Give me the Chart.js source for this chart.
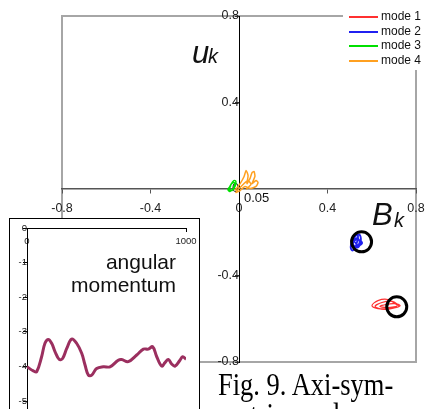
<!DOCTYPE html>
<html>
<head>
<meta charset="utf-8">
<script src="https://cdn.jsdelivr.net/npm/chart.js@4.4.1/dist/chart.umd.min.js"></script>
<style>
body { margin: 0; background: #fff; overflow: hidden; }
#wrap { position: relative; width: 425px; height: 409px; overflow: hidden; font-family: "Liberation Sans", Arial, sans-serif; color: #111; }
#mainChart { position: absolute; left: 0; top: 0; }
#insetBox { position: absolute; left: 9px; top: 218px; width: 189px; height: 200px; border: 1px solid #000; background: #fff; }
#insetChart { position: absolute; left: 0; top: 0; }
#legend { position: absolute; left: 343px; top: 9px; width: 82px; height: 61px; background: #fff; }
#legend .row { position: absolute; left: 6px; height: 14.7px; line-height: 14.7px; font-size: 12px; white-space: nowrap; }
#legend .swatch { display: inline-block; width: 29px; height: 2px; vertical-align: middle; margin-right: 3px; }
.txt { position: absolute; line-height: 1; white-space: nowrap; }
.cap { position: absolute; line-height: 1; white-space: nowrap; font-family: "Liberation Serif", "Times New Roman", serif; font-size: 26.5px; color: #000; transform: scaleY(1.2); transform-origin: 0 0.84em; }
</style>
</head>
<body>
<div id="wrap">
    <canvas id="mainChart" width="425" height="409"></canvas>
    <div id="legend"></div>
    <div class="txt" style="left:192px;top:36.8px;font-size:31px;font-style:italic">u</div>
    <div class="txt" style="left:208px;top:46.1px;font-size:20px;font-style:italic">k</div>
    <div class="txt" style="left:372px;top:198.8px;font-size:31px;font-style:italic">B</div>
    <div class="txt" style="left:394px;top:210.1px;font-size:20px;font-style:italic">k</div>
    <div class="txt" style="left:244px;top:191px;font-size:13px">0.05</div>
    <div id="insetBox">
        <canvas id="insetChart" width="189" height="190"></canvas>
    </div>
    <div class="txt" style="left:0;width:176px;text-align:right;top:251.2px;font-size:21px">angular</div>
    <div class="txt" style="left:0;width:176px;text-align:right;top:273.9px;font-size:21px">momentum</div>
    <div class="cap" style="left:218px;top:372.8px">Fig. 9. Axi-sym-</div>
    <div class="cap" style="left:218px;top:403px">metric modes</div>
</div>
<script>
// main phase plot: B_k on x, u_k on y
const tickValues = [-0.8, -0.4, 0, 0.4, 0.8];

const modeNames = ["mode 1", "mode 2", "mode 3", "mode 4"];
const modeColors = ["#ff3030", "#2020f0", "#00e000", "#ffa020"];
const modeWidths = [1.2, 1.8, 1.5, 1.5];

const mode1B = [0.719, 0.673, 0.628, 0.601, 0.628, 0.682, 0.723, 0.692, 0.646, 0.615, 0.655, 0.710, 0.728, 0.701, 0.664, 0.637, 0.673, 0.714];
const mode1U = [-0.539, -0.511, -0.516, -0.539, -0.553, -0.553, -0.543, -0.520, -0.525, -0.543, -0.557, -0.548, -0.539, -0.530, -0.534, -0.543, -0.548, -0.543];

const mode2B = [0.511, 0.520, 0.529, 0.538, 0.533, 0.524, 0.511, 0.506, 0.524, 0.542, 0.551, 0.547, 0.533, 0.515, 0.529, 0.547, 0.556, 0.538, 0.520, 0.512, 0.527, 0.545, 0.535, 0.518];
const mode2U = [-0.266, -0.229, -0.206, -0.220, -0.247, -0.275, -0.284, -0.257, -0.220, -0.210, -0.229, -0.257, -0.271, -0.252, -0.234, -0.238, -0.252, -0.261, -0.243, -0.262, -0.270, -0.248, -0.226, -0.238];

const mode3B = [-0.045, -0.036, -0.023, -0.014, -0.018, -0.032, -0.041, -0.041, -0.027, -0.018, -0.027, -0.041, -0.050, -0.036];
const mode3U = [-0.007, 0.021, 0.039, 0.035, 0.012, -0.007, -0.002, 0.012, 0.030, 0.025, 0.002, -0.012, -0.002, 0.016];

const mode4B = [-0.018, 0.005, 0.023, 0.032, 0.041, 0.036, 0.050, 0.059, 0.068, 0.072, 0.059, 0.077, 0.086, 0.077, 0.050, 0.027, 0.005, -0.014, 0.014, 0.041, 0.054, 0.032];
const mode4U = [-0.007, 0.025, 0.058, 0.086, 0.062, 0.025, 0.049, 0.076, 0.081, 0.058, 0.025, 0.039, 0.030, 0.012, 0.002, 0.012, -0.007, -0.016, 0.016, 0.039, 0.021, -0.002];

// fixed points marked with black rings
const ringB = [0.554, 0.713];
const ringU = [-0.2445, -0.545];

// inset: angular momentum vs time
const timeValues = [0, 40, 61, 92, 113, 134, 155, 176, 203, 224, 250, 281, 312, 344, 365, 386, 407, 438, 480, 522, 574, 595, 637, 690, 732, 763, 790, 816, 847, 868, 889, 910, 931, 962, 979, 1000];
const angularValues = [-4.01, -4.13, -4.15, -3.72, -3.33, -3.22, -3.33, -3.57, -3.80, -3.77, -3.48, -3.21, -3.33, -3.62, -3.96, -4.25, -4.25, -4.06, -4.01, -4.01, -3.82, -3.80, -3.86, -3.67, -3.50, -3.50, -3.43, -3.72, -3.99, -3.89, -3.80, -3.93, -3.99, -3.82, -3.72, -3.79];
const insetXTicks = [0, 1000];
const insetYTicks = [-5, -4, -3, -2, -1, 0];

Chart.defaults.font.family = '"Liberation Sans", Arial, sans-serif';

function toPoints(xs, ys)
{
    return xs.map((x, i) => ({ x: x, y: ys[i] }));
}

function fixedTicks(list)
{
    return function (scale) {
        scale.ticks = list.map(v => ({ value: v }));
    };
}

// scales sit inside the plot, so no room is kept for their labels
function noPadding(scale)
{
    scale.paddingTop = 0;
    scale.paddingBottom = 0;
    scale.paddingLeft = 0;
    scale.paddingRight = 0;
}

const frameBox = {
    id: "frameBox",
    beforeDraw(chart) {
        const a = chart.chartArea;
        const c = chart.ctx;
        c.save();
        c.strokeStyle = "#a6a6a6";
        c.lineWidth = 2;
        c.strokeRect(a.left, a.top, a.right - a.left, a.bottom - a.top);
        c.restore();
    }
};

function createMainChart()
{
    let modes = [
        [mode1B, mode1U],
        [mode2B, mode2U],
        [mode3B, mode3U],
        [mode4B, mode4U]
    ];

    let datasets = modes.map((m, i) => ({
        label: modeNames[i],
        data: toPoints(m[0], m[1]),
        showLine: true,
        borderColor: modeColors[i],
        borderWidth: modeWidths[i],
        pointRadius: 0,
        tension: i == 3 ? 0.2 : 0.35,
        order: 1
    }));

    datasets.push({
        label: "fixed",
        data: toPoints(ringB, ringU),
        showLine: false,
        pointRadius: 10,
        pointBorderWidth: 3,
        pointBorderColor: "#000",
        pointBackgroundColor: "rgba(0,0,0,0)",
        order: -1
    });

    new Chart(
        document.getElementById("mainChart"),
        {
            type: "scatter",
            data: { datasets: datasets },
            options: {
                responsive: false,
                animation: false,
                events: [],
                layout: { autoPadding: false, padding: { left: 62, right: 9, top: 16, bottom: 47 } },
                plugins: {
                    legend: { display: false },
                    tooltip: { enabled: false }
                },
                scales: {
                    x: {
                        type: "linear",
                        position: { y: 0 },
                        min: -0.8,
                        max: 0.8,
                        afterBuildTicks: fixedTicks(tickValues),
                        afterFit: noPadding,
                        grid: { drawOnChartArea: false, tickLength: 4, color: "#555", lineWidth: 1 },
                        border: { color: "#555", width: 1.5 },
                        ticks: { padding: 8, color: "#222", font: { size: 12.5 }, callback: v => String(v) }
                    },
                    y: {
                        type: "linear",
                        position: { x: 0 },
                        min: -0.8,
                        max: 0.8,
                        afterBuildTicks: fixedTicks(tickValues),
                        afterFit: noPadding,
                        grid: { drawOnChartArea: false, tickLength: 4, color: "#333", lineWidth: 1 },
                        border: { color: "#000", width: 1 },
                        ticks: { padding: 6, color: "#222", font: { size: 12.5 }, callback: v => String(v) }
                    }
                }
            },
            plugins: [frameBox]
        }
    );

    let legendBox = document.getElementById("legend");
    datasets.slice(0, 4).forEach((d, i) => {
        let row = document.createElement("div");
        row.className = "row";
        row.style.top = (i * 14.7) + "px";
        row.innerHTML = '<span class="swatch" style="background:' + d.borderColor + '"></span>' + d.label;
        legendBox.appendChild(row);
    });
}

function createInsetChart()
{
    new Chart(
        document.getElementById("insetChart"),
        {
            type: "scatter",
            data: {
                datasets: [{
                    label: "angular momentum",
                    data: toPoints(timeValues, angularValues),
                    showLine: true,
                    borderColor: "#9b2f5f",
                    borderWidth: 3,
                    pointRadius: 0,
                    tension: 0.4
                }]
            },
            options: {
                responsive: false,
                animation: false,
                events: [],
                layout: { autoPadding: false, padding: { left: 17, right: 13, top: 9, bottom: 0 } },
                plugins: {
                    legend: { display: false },
                    tooltip: { enabled: false }
                },
                scales: {
                    x: {
                        type: "linear",
                        position: { y: 0 },
                        min: 0,
                        max: 1000,
                        afterBuildTicks: fixedTicks(insetXTicks),
                        afterFit: noPadding,
                        grid: { drawOnChartArea: false, tickLength: 3, color: "#000" },
                        border: { color: "#000", width: 1 },
                        ticks: { padding: 5, color: "#222", font: { size: 9.5 }, callback: v => String(v) }
                    },
                    y: {
                        type: "linear",
                        position: { x: 0 },
                        min: -5.23,
                        max: 0,
                        afterBuildTicks: fixedTicks(insetYTicks),
                        afterFit: noPadding,
                        grid: { drawOnChartArea: false, tickLength: 4, color: "#000" },
                        border: { color: "#000", width: 1 },
                        ticks: { padding: 3, color: "#222", font: { size: 9.5 }, callback: v => String(v) }
                    }
                }
            }
        }
    );
}

createMainChart();
createInsetChart();
</script>
</body>
</html>
